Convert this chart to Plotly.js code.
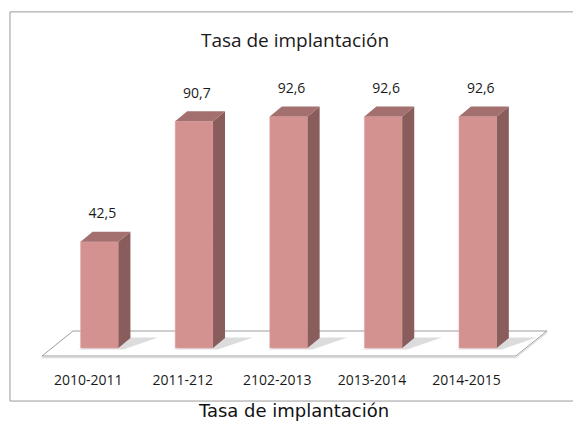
<!DOCTYPE html>
<html>
<head>
<meta charset="utf-8">
<script src="https://cdn.plot.ly/plotly-3.0.1.min.js"></script>
<style>html,body{margin:0;padding:0;background:#fff;}#chart{width:573px;height:426px;}</style>
</head>
<body>
<div id="chart"></div>
<script>
// ---- data ----
const categories = ['2010-2011', '2011-212', '2102-2013', '2013-2014', '2014-2015'];
const values = [42.5, 90.7, 92.6, 92.6, 92.6];
const valueLabels = ['42,5', '90,7', '92,6', '92,6', '92,6'];
const chartTitle = 'Tasa de implantación';
const captionText = 'Tasa de implantación';

// ---- style constants ----
const FRONT = 'rgb(211,145,144)';
const SIDE = 'rgb(137,93,92)';
const TOP = 'rgb(163,112,111)';
const BAR_W = 0.4;
const DEPTH_X = 0.127;   // 3D depth in category units
const DEPTH_Y = 4;       // 3D depth in value units
const FONT = 'Open Sans, Noto Sans, sans-serif';

const idx = categories.map((c, i) => i);

// side and top faces, built from data
const sideX = [], sideY = [], topX = [], topY = [];
idx.forEach((i, k) => {
  const v = values[k];
  const r = i + BAR_W / 2, l = i - BAR_W / 2;
  sideX.push(r, r + DEPTH_X, r + DEPTH_X, r, r, null);
  sideY.push(0, DEPTH_Y, v + DEPTH_Y, v, 0, null);
  topX.push(l, l + DEPTH_X, r + DEPTH_X, r, l, null);
  topY.push(v, v + DEPTH_Y, v + DEPTH_Y, v, v, null);
});

const traces = [
  {
    type: 'bar', x: idx, y: values, width: BAR_W,
    marker: {color: FRONT, line: {width: 0.6, color: 'rgb(226,170,169)'}},
    hoverinfo: 'skip', showlegend: false
  },
  {
    type: 'scatter', mode: 'lines', x: sideX, y: sideY, fill: 'toself',
    fillcolor: SIDE, line: {width: 0, color: SIDE}, hoverinfo: 'skip', showlegend: false
  },
  {
    type: 'scatter', mode: 'lines', x: topX, y: topY, fill: 'toself',
    fillcolor: TOP, line: {width: 0, color: TOP}, hoverinfo: 'skip', showlegend: false
  },
  {
    type: 'scatter', mode: 'text', x: idx.map(i => i + 0.03), y: values.map(v => v + 10.8),
    text: valueLabels, textposition: 'middle center',
    textfont: {family: FONT, size: 14, color: '#1a1a1a'},
    hoverinfo: 'skip', showlegend: false, cliponaxis: false
  }
];

// frame, floor and shadows as shapes below the traces
const shapes = [
  {
    type: 'rect', xref: 'paper', yref: 'paper',
    x0: -0.009, x1: 1.05, y0: -0.114, y1: 0.967,
    line: {color: '#9a9a9a', width: 1}, fillcolor: 'rgba(0,0,0,0)', layer: 'below'
  },
  {
    type: 'path', xref: 'x', yref: 'y', layer: 'below',
    path: 'M -0.608 -3.2 L -0.28 6.8 L 4.73 6.8 L 4.40 -3.2 Z',
    fillcolor: '#ffffff', line: {color: '#9c9c9c', width: 1}
  },
  {
    type: 'path', xref: 'x', yref: 'y', layer: 'below',
    path: 'M -0.608 -3.9 L 4.40 -3.9 L 4.73 6.1',
    line: {color: '#d4d4d4', width: 1}
  }
];
idx.forEach(i => {
  const r = i + BAR_W / 2;
  shapes.push({
    type: 'path', xref: 'x', yref: 'y', layer: 'below',
    path: `M ${i - 0.23} -0.6 L ${r + 0.05} -0.6 L ${r + 0.42} 4.2 L ${r + 0.1} 4.2 Z`,
    fillcolor: 'rgba(140,140,140,0.3)', line: {width: 0}
  });
});

const layout = {
  width: 573, height: 426,
  margin: {l: 15, r: 0, t: 0, b: 66},
  paper_bgcolor: '#ffffff', plot_bgcolor: 'rgba(0,0,0,0)',
  showlegend: false,
  title: {
    text: chartTitle, xref: 'container', yref: 'container',
    x: 295 / 573, xanchor: 'center', y: 1 - 40 / 426, yanchor: 'middle',
    font: {family: FONT, size: 19, color: '#1a1a1a'}
  },
  xaxis: {
    range: [(15 - 99.5) / 94.6, (573 - 99.5) / 94.6],
    tickmode: 'array', tickvals: idx.map(i => i - 0.12), ticktext: categories,
    tickfont: {family: FONT, size: 14, color: '#1a1a1a'},
    ticks: '', showgrid: false, zeroline: false, showline: false,
    ticklabelstandoff: 10,
    title: {text: captionText, font: {family: 'DejaVu Sans, Verdana, sans-serif', size: 18, color: '#111'}, standoff: 16},
    fixedrange: true
  },
  yaxis: {
    range: [-4.8, 139.2], visible: false, showgrid: false, zeroline: false, fixedrange: true
  },
  shapes: shapes
};

Plotly.newPlot('chart', traces, layout, {displayModeBar: false, staticPlot: true});
</script>
</body>
</html>
